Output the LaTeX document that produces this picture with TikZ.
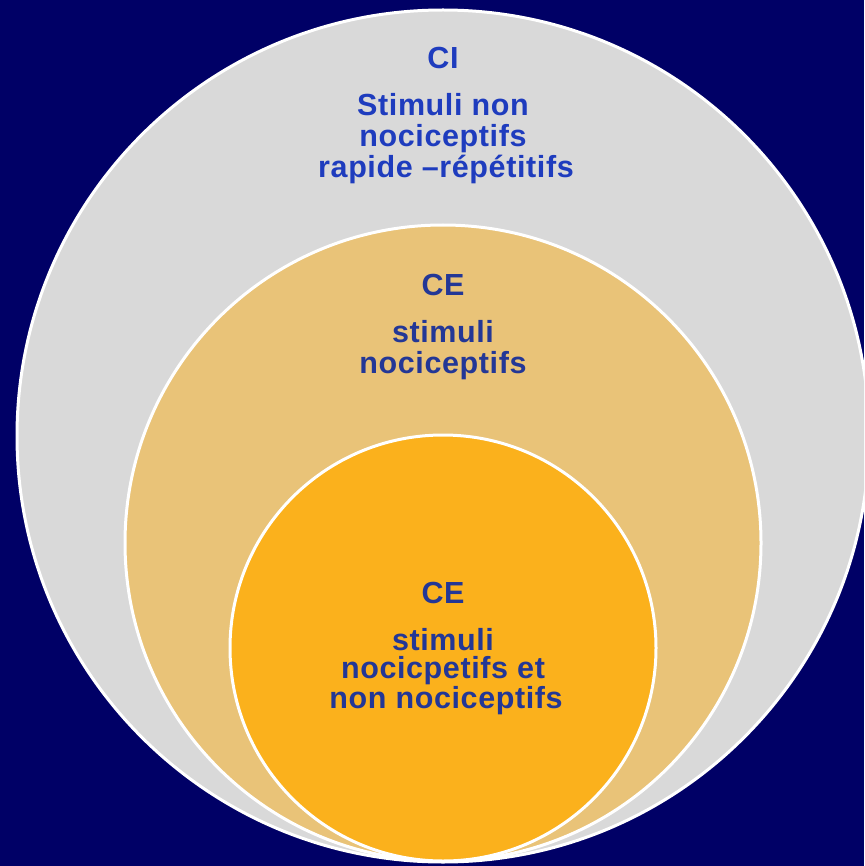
\documentclass[tikz,border=0pt]{standalone}
\usepackage{fontspec}
\setmainfont{Liberation Sans}[LetterSpace=2]
\definecolor{navybg}{RGB}{0,0,102}
\definecolor{outergray}{RGB}{217,217,217}
\definecolor{midtan}{RGB}{233,195,120}
\definecolor{innerorange}{RGB}{251,177,28}
\definecolor{topblue}{RGB}{30,60,190}
\definecolor{midblue}{RGB}{35,55,150}
\begin{document}
\begin{tikzpicture}[x=1pt,y=-1pt,
  ring/.style={draw=white,line width=3pt},
  lbl/.style={anchor=base,inner sep=0pt,font=\bfseries\fontsize{30.5}{31}\selectfont},
  toplbl/.style={lbl,text=topblue},
  midlbl/.style={lbl,text=midblue}]
\fill[navybg] (0,0) rectangle (864,866);
\useasboundingbox (0,0) rectangle (864,866);
\begin{scope}
\clip (0,0) rectangle (864,866);
\path[ring,fill=outergray] (443,436) circle[radius=426];
\path[ring,fill=midtan] (443,543) circle[radius=318];
\path[ring,fill=innerorange] (443,648) circle[radius=213];
\end{scope}
% outer circle texts
\node[toplbl] (ci) at (443,69) {CI};
\node[toplbl] (o1) at (443,116) {Stimuli non};
\node[toplbl] (o2) at (443,147) {nociceptifs};
\node[toplbl] (o3) at (446,178) {rapide –répétitifs};
% middle circle texts
\node[midlbl] (ce1) at (443,295) {CE};
\node[midlbl] (m1) at (443,342) {stimuli};
\node[midlbl] (m2) at (443,373) {nociceptifs};
% inner circle texts
\node[midlbl] (ce2) at (443,603) {CE};
\node[midlbl] (i1) at (443,650) {stimuli};
\node[midlbl] (i2) at (443,678) {nocicpetifs et};
\node[midlbl] (i3) at (446,708) {non nociceptifs};
\end{tikzpicture}
\end{document}
